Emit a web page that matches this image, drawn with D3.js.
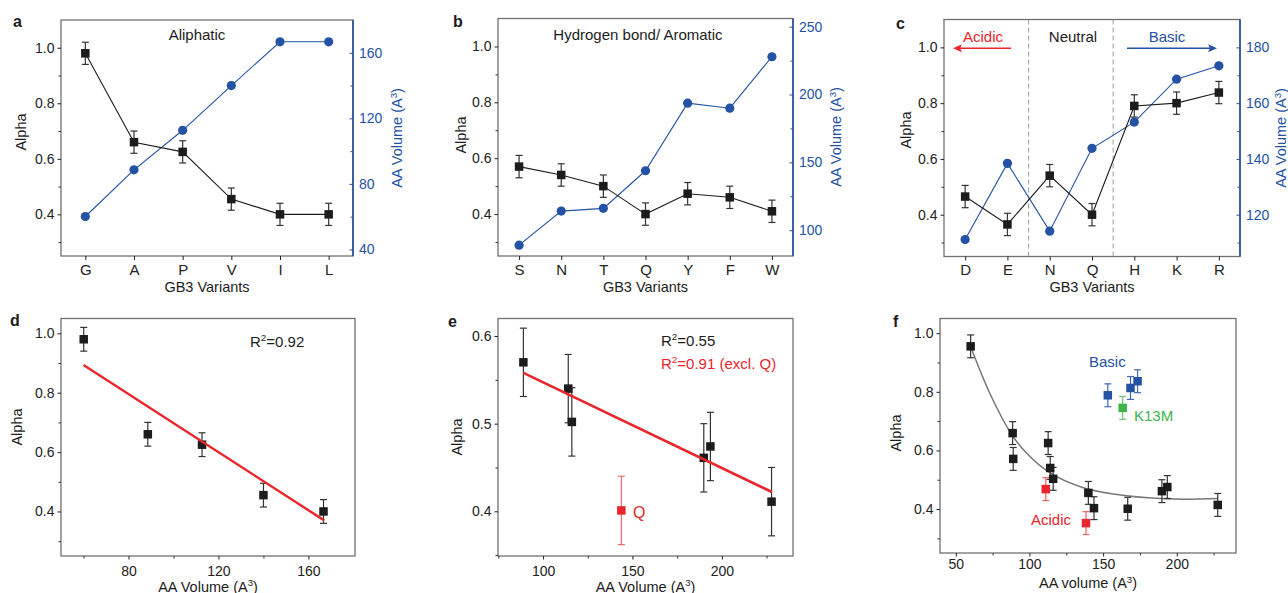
<!DOCTYPE html>
<html>
<head>
<meta charset="utf-8">
<script src="https://cdn.jsdelivr.net/npm/d3@7"></script>
<style>
  body { margin: 0; background: #fff; }
  svg { display: block; }
</style>
</head>
<body>
<svg id="fig" width="1288" height="593"></svg>
<script>
// ---------- data ----------
var catsA = ["G", "A", "P", "V", "I", "L"];
var alphaA = [0.98, 0.66, 0.625, 0.455, 0.40, 0.40];
var errA = [0.04, 0.04, 0.04, 0.04, 0.04, 0.04];
var volA = [60.1, 88.6, 112.7, 140.0, 166.7, 166.7];

var catsB = ["S", "N", "T", "Q", "Y", "F", "W"];
var alphaB = [0.57, 0.54, 0.50, 0.40, 0.473, 0.46, 0.41];
var errB = [0.04, 0.04, 0.04, 0.04, 0.04, 0.04, 0.04];
var volB = [89.0, 114.1, 116.1, 143.8, 193.6, 189.9, 227.8];

var catsC = ["D", "E", "N", "Q", "H", "K", "R"];
var alphaC = [0.465, 0.365, 0.54, 0.40, 0.79, 0.80, 0.838];
var errC = [0.04, 0.04, 0.04, 0.04, 0.04, 0.04, 0.04];
var volC = [111.1, 138.4, 114.1, 143.8, 153.2, 168.6, 173.4];

var volD = [60.1, 88.6, 112.7, 140.0, 166.7];
var alphaD = [0.98, 0.66, 0.625, 0.455, 0.40];
var errD = [0.04, 0.04, 0.04, 0.04, 0.04];
var fitD = [[60, 0.893], [167, 0.37]];

var volE = [89.0, 114.1, 116.1, 189.9, 193.6, 227.8];
var alphaE = [0.57, 0.54, 0.502, 0.461, 0.474, 0.411];
var errE = [0.039, 0.039, 0.039, 0.039, 0.039, 0.039];
var volEQ = [143.8];
var alphaEQ = [0.401];
var errEQ = [0.039];
var fitE = [[89, 0.558], [228, 0.422]];

var volF = [60.1, 88.6, 89.0, 112.7, 114.1, 116.1, 140.0, 143.8, 166.7, 189.9, 193.6, 227.8];
var alphaF = [0.955, 0.659, 0.571, 0.625, 0.54, 0.503, 0.455, 0.403, 0.401, 0.461, 0.475, 0.414];
var errF = [0.039, 0.039, 0.039, 0.039, 0.039, 0.039, 0.039, 0.039, 0.039, 0.039, 0.039, 0.039];
var volFAcid = [111.1, 138.4];
var alphaFAcid = [0.468, 0.352];
var errFAcid = [0.039, 0.039];
var volFBasic = [153.2, 168.6, 173.4];
var alphaFBasic = [0.788, 0.813, 0.836];
var errFBasic = [0.039, 0.039, 0.039];
var volFK13M = [163.3];
var alphaFK13M = [0.745];
var errFK13M = [0.039];
var curveF = [[60, 0.955], [73, 0.796], [88, 0.654], [98, 0.591], [114, 0.523],
              [137, 0.472], [166, 0.445], [198, 0.434], [228, 0.436]];

var alphaMajor = [0.4, 0.6, 0.8, 1.0];
var alphaMinor = [0.3, 0.5, 0.7, 0.9];

// ---------- style ----------
var FONT = '"Liberation Sans", Arial, Helvetica, sans-serif';
var BLUE = "#2452a4", RED = "#e8262c", GREEN = "#3db54b", INK = "#1c1c1c", FRAME = "#707070";

var svg = d3.select("#fig").attr("font-family", FONT);

var boxes = {
  a: {l: 61, r: 353, t: 20, b: 256},
  b: {l: 498, r: 793, t: 18.5, b: 256},
  c: {l: 944, r: 1240, t: 19.5, b: 256.5},
  d: {l: 61, r: 355, t: 318.5, b: 556},
  e: {l: 498, r: 793, t: 318.5, b: 556},
  f: {l: 940, r: 1236, t: 318.5, b: 553}
};

function frame(box) {
  svg.append("rect")
     .attr("x", box.l).attr("y", box.t)
     .attr("width", box.r - box.l).attr("height", box.b - box.t)
     .attr("fill", "none").attr("stroke", FRAME).attr("stroke-width", 1.3);
}

function axis(gen, tx, ty, color, size) {
  var g = svg.append("g").attr("transform", "translate(" + tx + "," + ty + ")").call(gen);
  g.select(".domain").remove();
  g.attr("color", color).attr("font-family", FONT).attr("font-size", size || 14);
  return g;
}

function text(str, x, y, opt) {
  opt = opt || {};
  return svg.append("text")
     .attr("x", x).attr("y", y)
     .attr("text-anchor", opt.anchor || "start")
     .attr("font-size", opt.size || 15)
     .attr("font-weight", opt.weight || "normal")
     .attr("fill", opt.color || INK)
     .text(str);
}

function supText(sel, before, sup, after) {
  sel.append("tspan").text(before);
  sel.append("tspan").attr("dy", -5.5).attr("font-size", "0.66em").text(sup);
  sel.append("tspan").attr("dy", 5.5).text(after);
  return sel;
}

function vTitle(x, y, size, color, parts) {
  var t = svg.append("text")
     .attr("transform", "translate(" + x + "," + y + ") rotate(-90)")
     .attr("text-anchor", "middle").attr("font-size", size).attr("fill", color);
  if (parts.length === 1) t.text(parts[0]);
  else supText(t, parts[0], parts[1], parts[2]);
  return t;
}

function errorBars(xs, ys, es, x, y, color, cap) {
  cap = cap || 3.5;
  var pts = xs.map(function(v, i) { return {x: x(v), lo: y(ys[i] - es[i]), hi: y(ys[i] + es[i])}; });
  var g = svg.append("g").attr("stroke", color).attr("stroke-width", 1.2).attr("fill", "none");
  g.selectAll(".v").data(pts).join("line")
   .attr("x1", function(d) { return d.x; }).attr("x2", function(d) { return d.x; })
   .attr("y1", function(d) { return d.lo; }).attr("y2", function(d) { return d.hi; });
  g.selectAll(".lo").data(pts).join("line")
   .attr("x1", function(d) { return d.x - cap; }).attr("x2", function(d) { return d.x + cap; })
   .attr("y1", function(d) { return d.lo; }).attr("y2", function(d) { return d.lo; });
  g.selectAll(".hi").data(pts).join("line")
   .attr("x1", function(d) { return d.x - cap; }).attr("x2", function(d) { return d.x + cap; })
   .attr("y1", function(d) { return d.hi; }).attr("y2", function(d) { return d.hi; });
}

function squares(xs, ys, x, y, color, s) {
  s = s || 8.5;
  svg.append("g").selectAll("rect").data(xs.map(function(v, i) { return [v, ys[i]]; })).join("rect")
     .attr("x", function(d) { return x(d[0]) - s / 2; })
     .attr("y", function(d) { return y(d[1]) - s / 2; })
     .attr("width", s).attr("height", s).attr("fill", color);
}

// ---------- panels a, b, c : alpha + volume against variant ----------
function dualPanel(box, cats, alpha, err, vol, volDom, volMajor, volMinor, volFmt) {
  var x = d3.scalePoint().domain(cats).range([box.l, box.r]).padding(0.5);
  var y = d3.scaleLinear().domain([0.25, 1.1]).range([box.b, box.t]);
  var y2 = d3.scaleLinear().domain(volDom).range([box.b, box.t]);

  frame(box);
  svg.append("line").attr("x1", box.r).attr("x2", box.r).attr("y1", box.t).attr("y2", box.b)
     .attr("stroke", BLUE).attr("stroke-width", 1.6);

  axis(d3.axisLeft(y).tickValues(alphaMinor).tickSize(2.5).tickFormat(""), box.l, 0, "#333");
  axis(d3.axisLeft(y).tickValues(alphaMajor).tickSize(3.5).tickPadding(3).tickFormat(d3.format(".1f")), box.l, 0, "#222");
  axis(d3.axisRight(y2).tickValues(volMinor).tickSize(-2.5).tickFormat(""), box.r, 0, BLUE);
  axis(d3.axisRight(y2).tickValues(volMajor).tickSizeInner(-3.5).tickSizeOuter(0).tickPadding(6).tickFormat(volFmt), box.r, 0, BLUE);
  axis(d3.axisBottom(x).tickSize(4).tickPadding(4), 0, box.b, "#222", 15);

  var line = d3.line();
  svg.append("path")
     .attr("d", line(cats.map(function(c, i) { return [x(c), y2(vol[i])]; })))
     .attr("fill", "none").attr("stroke", BLUE).attr("stroke-width", 1.1);
  svg.append("g").selectAll("circle").data(cats).join("circle")
     .attr("cx", function(c) { return x(c); })
     .attr("cy", function(c, i) { return y2(vol[i]); })
     .attr("r", 4.6).attr("fill", BLUE);

  svg.append("path")
     .attr("d", line(cats.map(function(c, i) { return [x(c), y(alpha[i])]; })))
     .attr("fill", "none").attr("stroke", INK).attr("stroke-width", 1.1);
  var xi = function(c) { return x(c); };
  errorBars(cats, alpha, err, xi, y, "#333");
  squares(cats, alpha, xi, y, INK);

  text("GB3 Variants", (box.l + box.r) / 2, box.b + 35.5, {anchor: "middle", size: 14.5});
  return {x: x, y: y};
}

var pa = dualPanel(boxes.a, catsA, alphaA, errA, volA, [36, 180], [40, 80, 120, 160], [60, 100, 140], d3.format("d"));
var pb = dualPanel(boxes.b, catsB, alphaB, errB, volB, [81, 256], [100, 150, 200, 250], [125, 175, 225], d3.format("d"));

// dashed separators drawn before panel c marks
var xC = d3.scalePoint().domain(catsC).range([boxes.c.l, boxes.c.r]).padding(0.5);
[["E", "N"], ["Q", "H"]].forEach(function(p) {
  var xm = (xC(p[0]) + xC(p[1])) / 2;
  svg.append("line").attr("x1", xm).attr("x2", xm).attr("y1", boxes.c.t).attr("y2", boxes.c.b)
     .attr("stroke", "#a8a8a8").attr("stroke-width", 1.1).attr("stroke-dasharray", "5,3");
});
var pc = dualPanel(boxes.c, catsC, alphaC, errC, volC, [105, 190], [120, 140, 160, 180], [110, 130, 150, 170], d3.format("d"));

text("Aliphatic", 197, 40, {anchor: "middle"});
text("Hydrogen bond/ Aromatic", 638, 39.5, {anchor: "middle"});

// acidic / neutral / basic annotation
text("Acidic", 983, 41.5, {anchor: "middle", color: RED});
text("Neutral", 1073, 41.5, {anchor: "middle"});
text("Basic", 1167, 41.5, {anchor: "middle", color: BLUE});
function arrow(x1, x2, yv, color) {
  var dir = x2 > x1 ? 1 : -1;
  svg.append("line").attr("x1", x1).attr("x2", x2 - dir * 7).attr("y1", yv).attr("y2", yv)
     .attr("stroke", color).attr("stroke-width", 1.6);
  svg.append("path")
     .attr("d", d3.line()([[x2, yv], [x2 - dir * 9, yv - 4], [x2 - dir * 7, yv], [x2 - dir * 9, yv + 4]]) + "Z")
     .attr("fill", color);
}
arrow(1011, 953, 48.3, RED);
arrow(1127, 1217, 48.3, BLUE);

// axis titles a-c
vTitle(26, 132, 14.5, INK, ["Alpha"]);
vTitle(466, 135, 14.5, INK, ["Alpha"]);
vTitle(911, 130, 14.5, INK, ["Alpha"]);
vTitle(402, 138, 14.5, BLUE, ["AA Volume (A", "3", ")"]);
vTitle(841, 137, 14.5, BLUE, ["AA Volume (A", "3", ")"]);
vTitle(1286, 138, 14.5, BLUE, ["AA Volume (A", "3", ")"]);

// ---------- panels d, e, f : alpha against volume ----------
function scatterFrame(box, xDom, yDom, xMajor, xMinor, yMajor, yMinor, labelGap) {
  var x = d3.scaleLinear().domain(xDom).range([box.l, box.r]);
  var y = d3.scaleLinear().domain(yDom).range([box.b, box.t]);
  frame(box);
  axis(d3.axisLeft(y).tickValues(yMinor).tickSize(2.5).tickFormat(""), box.l, 0, "#333");
  axis(d3.axisLeft(y).tickValues(yMajor).tickSize(3.5).tickPadding(3).tickFormat(d3.format(".1f")), box.l, 0, "#222");
  axis(d3.axisBottom(x).tickValues(xMinor).tickSize(2.5).tickFormat(""), 0, box.b, "#333");
  axis(d3.axisBottom(x).tickValues(xMajor).tickSize(3.5).tickPadding(labelGap).tickFormat(d3.format("d")), 0, box.b, "#222");
  return {x: x, y: y};
}

// d
var pd = scatterFrame(boxes.d, [50, 180.7], [0.25, 1.05], [80, 120, 160], [60, 100, 140], alphaMajor, alphaMinor, 7);
errorBars(volD, alphaD, errD, pd.x, pd.y, "#333");
squares(volD, alphaD, pd.x, pd.y, INK);
svg.append("path")
   .attr("d", d3.line().x(function(d) { return pd.x(d[0]); }).y(function(d) { return pd.y(d[1]); })(fitD))
   .attr("fill", "none").attr("stroke", RED).attr("stroke-width", 2.4);
supText(text("", 250, 346.5), "R", "2", "=0.92");

// e
var pe = scatterFrame(boxes.e, [74.8, 239.8], [0.349, 0.62], [100, 150, 200], [75, 125, 175, 225], [0.4, 0.5, 0.6], [0.35, 0.45, 0.55], 7);
errorBars(volE, alphaE, errE, pe.x, pe.y, "#333");
errorBars(volEQ, alphaEQ, errEQ, pe.x, pe.y, "#f06a6a");
squares(volE, alphaE, pe.x, pe.y, INK);
squares(volEQ, alphaEQ, pe.x, pe.y, RED);
svg.append("path")
   .attr("d", d3.line().x(function(d) { return pe.x(d[0]); }).y(function(d) { return pe.y(d[1]); })(fitE))
   .attr("fill", "none").attr("stroke", RED).attr("stroke-width", 2.6);
supText(text("", 661, 345.5), "R", "2", "=0.55");
supText(text("", 661, 368.5, {color: RED}), "R", "2", "=0.91 (excl. Q)");
text("Q", 633, 518, {color: RED, size: 16});

// f
var pf = scatterFrame(boxes.f, [39.3, 240.2], [0.25, 1.05], [50, 100, 150, 200], [75, 125, 175, 225], alphaMajor, alphaMinor, 3);
svg.append("path")
   .attr("d", d3.line().curve(d3.curveCatmullRom).x(function(d) { return pf.x(d[0]); }).y(function(d) { return pf.y(d[1]); })(curveF))
   .attr("fill", "none").attr("stroke", "#777").attr("stroke-width", 1.5);
errorBars(volF, alphaF, errF, pf.x, pf.y, "#333");
errorBars(volFAcid, alphaFAcid, errFAcid, pf.x, pf.y, "#ef6161");
errorBars(volFBasic, alphaFBasic, errFBasic, pf.x, pf.y, "#3f67b5");
errorBars(volFK13M, alphaFK13M, errFK13M, pf.x, pf.y, "#6cc47a");
squares(volF, alphaF, pf.x, pf.y, INK);
squares(volFAcid, alphaFAcid, pf.x, pf.y, RED);
squares(volFBasic, alphaFBasic, pf.x, pf.y, BLUE);
squares(volFK13M, alphaFK13M, pf.x, pf.y, GREEN);
text("Basic", 1089, 366.5, {color: BLUE});
text("K13M", 1134, 420.5, {color: GREEN});
text("Acidic", 1031, 525, {color: RED});

// titles d-f
vTitle(22, 427, 14.5, INK, ["Alpha"]);
vTitle(462, 437, 14.5, INK, ["Alpha"]);
vTitle(901, 433, 14.5, INK, ["Alpha"]);
supText(text("", (boxes.d.l + boxes.d.r) / 2, 591.5, {anchor: "middle", size: 14.5}), "AA Volume (A", "3", ")");
supText(text("", (boxes.e.l + boxes.e.r) / 2, 591.5, {anchor: "middle", size: 14.5}), "AA Volume (A", "3", ")");
supText(text("", (boxes.f.l + boxes.f.r) / 2, 588, {anchor: "middle", size: 14.5}), "AA volume (A", "3", ")");

// panel letters
text("a", 13, 26.5, {weight: "bold", size: 16});
text("b", 453, 26.5, {weight: "bold", size: 16});
text("c", 896, 29, {weight: "bold", size: 16});
text("d", 10, 326, {weight: "bold", size: 16});
text("e", 448, 326.5, {weight: "bold", size: 16});
text("f", 893, 326.5, {weight: "bold", size: 16});
</script>
</body>
</html>
